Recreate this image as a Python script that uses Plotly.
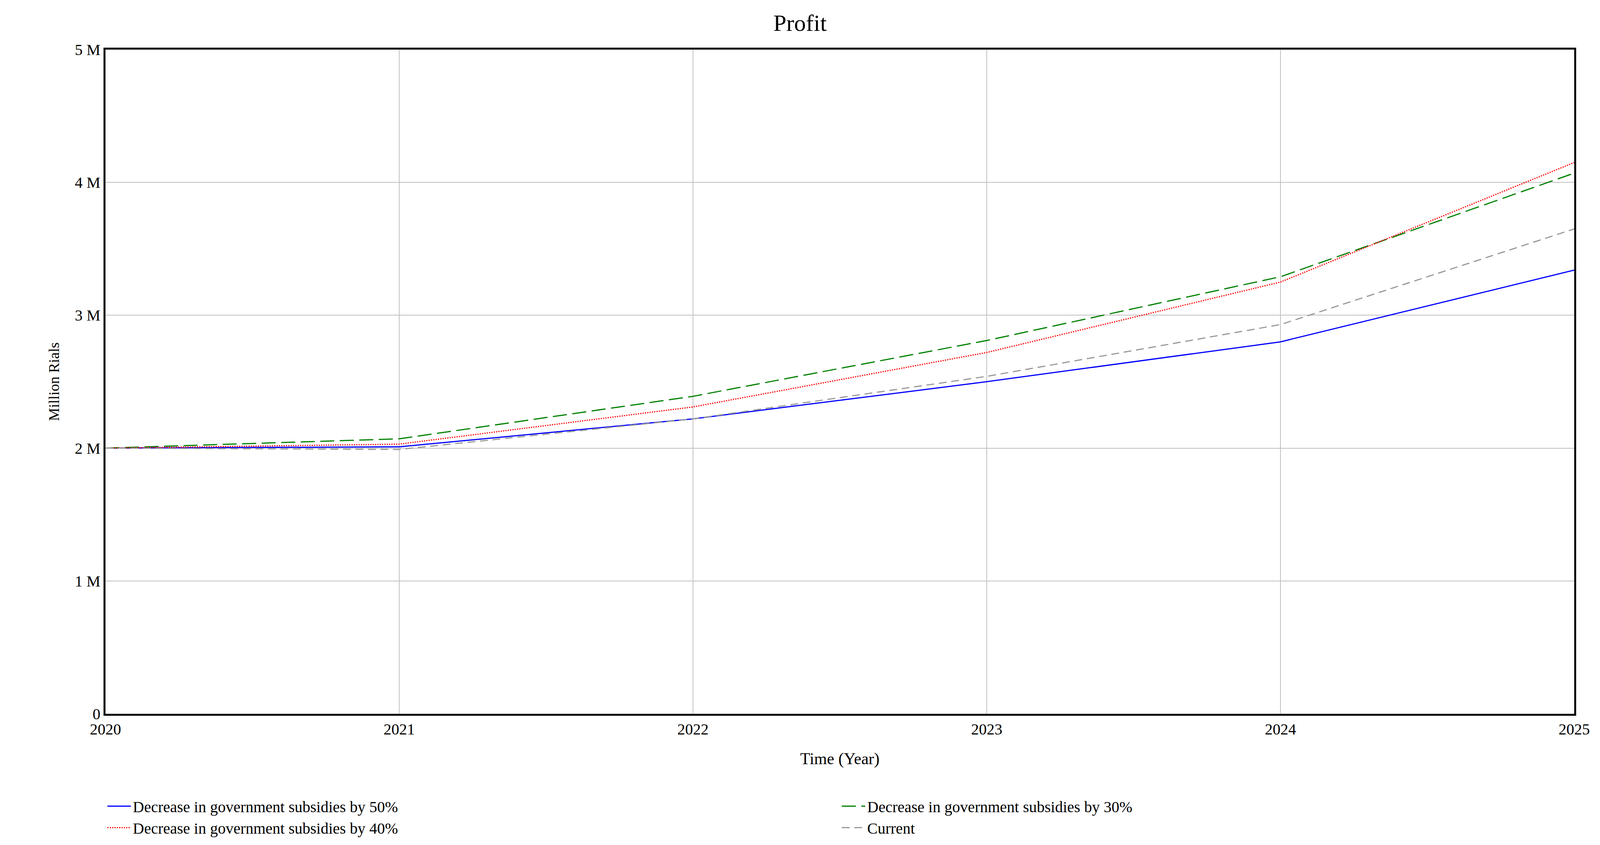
import plotly.graph_objects as go

years = [2020, 2021, 2022, 2023, 2024, 2025]
s50 = [2.0, 2.01, 2.22, 2.50, 2.80, 3.34]
s40 = [2.0, 2.03, 2.31, 2.72, 3.25, 4.15]
s30 = [2.0, 2.07, 2.39, 2.81, 3.29, 4.07]
cur = [2.0, 1.99, 2.22, 2.54, 2.93, 3.65]
names = ["Decrease in government subsidies by 50%", "Decrease in government subsidies by 30%",
         "Decrease in government subsidies by 40%", "Current"]
yticks = [0, 1, 2, 3, 4, 5]
ytext = ["0", "1 M", "2 M", "3 M", "4 M", "5 M"]

fig = go.Figure()
for vals, nm, col, dash in [(s50, names[0], "#0000ff", "solid"), (s30, names[1], "#008000", "36px,14px"),
                            (s40, names[2], "#ff0000", "dot"), (cur, names[3], "#999999", "20px,12px")]:
    fig.add_trace(go.Scatter(x=years, y=vals, name=nm, mode="lines",
                             line=dict(color=col, width=3, dash=dash)))

font = dict(family="Liberation Serif", color="black")
fig.update_layout(
    autosize=True, plot_bgcolor="white", paper_bgcolor="white",
    margin=dict(l=262, r=58, t=119, b=344),
    title=dict(text="Profit", x=0.5, xanchor="center", y=0.977, yanchor="middle", font=dict(size=60, **font)),
    font=dict(size=40, **font),
    legend=dict(orientation="h", x=0.0, y=-0.12, xanchor="left", yanchor="top",
                xref="paper", entrywidth=0.5, entrywidthmode="fraction",
                font=dict(size=40, **font), tracegroupgap=0, itemwidth=60),
    xaxis=dict(range=[2020, 2025], tickvals=years, showgrid=True, gridcolor="#c0c0c0", gridwidth=2,
               showline=True, mirror=True, linecolor="black", linewidth=5, ticks="",
               title=dict(text="Time (Year)", font=dict(size=42, **font), standoff=40)),
    yaxis=dict(range=[0, 5], tickvals=yticks, ticktext=ytext, showgrid=True, gridcolor="#c0c0c0", gridwidth=2,
               showline=True, mirror=True, linecolor="black", linewidth=5, ticks="", zeroline=False,
               title=dict(text="Million Rials", font=dict(size=38, **font), standoff=30)),
)
fig.write_html("out.html", config={"responsive": True}, default_width="100%", default_height="100vh")
